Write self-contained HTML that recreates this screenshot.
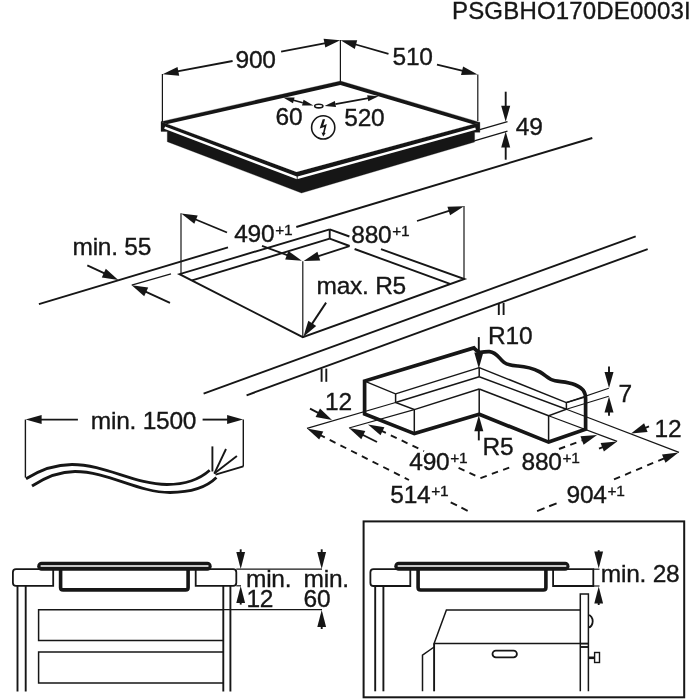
<!DOCTYPE html>
<html><head><meta charset="utf-8"><title>PSGBHO170DE0003I</title>
<style>
html,body{margin:0;padding:0;background:#fff;}
body{width:700px;height:700px;overflow:hidden;}
svg{display:block;will-change:transform;}
svg text{letter-spacing:-0.25px;stroke:#161616;stroke-width:0.35px;font-family:"Liberation Sans",Arial,Helvetica,sans-serif;fill:#161616;}
</style></head><body>
<svg width="700" height="700" viewBox="0 0 700 700">

<text x="452.0" y="18.8" font-size="24" text-anchor="start" textLength="238.5" lengthAdjust="spacing">PSGBHO170DE0003I</text>
<polygon points="161.0,121.7 296.5,172.0 479.9,122.4 479.9,132.3 474.6,132.3 474.6,142.0 301.5,193.0 167.3,141.7 167.3,131.6 161.0,131.4" fill="#161616" stroke="#161616" stroke-width="0.3" stroke-linejoin="miter"/>
<polyline points="164.6,127.6 297,177.9 475.6,128.6" fill="none" stroke="#fff" stroke-width="2.5" stroke-linejoin="miter"/>
<line x1="297.2" y1="176.0" x2="297.2" y2="180.0" stroke="#161616" stroke-width="0.9" stroke-linecap="butt"/>
<polygon points="161.0,121.7 340.5,81.0 479.9,122.4 296.5,172.0" fill="#161616" stroke="#161616" stroke-width="0.3" stroke-linejoin="miter"/>
<polygon points="167.5,124.1 340.4,84.9 472.9,124.3 296.5,172.0" fill="#fff"/>
<line x1="162.4" y1="74.0" x2="162.4" y2="122.0" stroke="#161616" stroke-width="1.2" stroke-linecap="butt"/>
<line x1="340.4" y1="40.0" x2="340.4" y2="82.0" stroke="#161616" stroke-width="1.2" stroke-linecap="butt"/>
<line x1="477.8" y1="74.6" x2="477.8" y2="121.0" stroke="#161616" stroke-width="1.2" stroke-linecap="butt"/>
<polygon points="162.6,74.2 177.5,66.9 179.2,75.7" fill="#161616"/>
<line x1="176.0" y1="71.7" x2="232.6" y2="61.0" stroke="#161616" stroke-width="1.8" stroke-linecap="butt"/>
<polygon points="340.2,40.2 325.3,47.6 323.6,38.8" fill="#161616"/>
<line x1="281.1" y1="51.7" x2="327.0" y2="42.8" stroke="#161616" stroke-width="1.8" stroke-linecap="butt"/>
<text x="235.5" y="68.0" font-size="24.5" text-anchor="start">900</text>
<polygon points="340.6,40.2 357.2,40.2 354.8,48.9" fill="#161616"/>
<line x1="354.0" y1="44.0" x2="388.5" y2="53.8" stroke="#161616" stroke-width="1.8" stroke-linecap="butt"/>
<polygon points="477.6,74.6 461.0,75.1 463.1,66.4" fill="#161616"/>
<line x1="437.0" y1="64.6" x2="464.0" y2="71.2" stroke="#161616" stroke-width="1.8" stroke-linecap="butt"/>
<text x="392.5" y="65.0" font-size="24.5" text-anchor="start">510</text>
<polygon points="283.2,97.4 294.6,97.4 293.0,103.2" fill="#161616"/>
<polygon points="313.4,105.6 302.0,105.6 303.6,99.8" fill="#161616"/>
<line x1="302.8" y1="102.7" x2="291.7" y2="99.7" stroke="#161616" stroke-width="1.7" stroke-linecap="butt"/>
<polygon points="378.6,96.3 368.3,101.2 367.2,95.3" fill="#161616"/>
<polygon points="324.6,106.0 334.9,101.1 336.0,107.0" fill="#161616"/>
<line x1="335.4" y1="104.1" x2="369.9" y2="97.9" stroke="#161616" stroke-width="1.7" stroke-linecap="butt"/>
<ellipse cx="318.8" cy="106.1" rx="4.1" ry="1.8" fill="#fff" stroke="#161616" stroke-width="1.6"/>
<text x="275.5" y="124.8" font-size="24.5" text-anchor="start">60</text>
<text x="344.3" y="126.2" font-size="24.5" text-anchor="start">520</text>
<circle cx="323.2" cy="127.4" r="11.6" fill="none" stroke="#161616" stroke-width="1.6"/>
<path d="M322.7 119.3 L325.1 119.3 L323.2 125.4 L326.8 123.9 L324.6 132.7 L325.7 132.9 L323.2 136.4 L321.5 132.6 L323 132.7 L324.3 127 L319.7 128.6 Z" fill="#161616"/>
<line x1="479.8" y1="129.7" x2="507.5" y2="121.6" stroke="#161616" stroke-width="1.2" stroke-linecap="butt"/>
<line x1="474.3" y1="140.9" x2="507.5" y2="131.2" stroke="#161616" stroke-width="1.2" stroke-linecap="butt"/>
<polygon points="505.7,121.7 501.2,105.7 510.2,105.7" fill="#161616"/>
<line x1="505.7" y1="91.7" x2="505.7" y2="108.9" stroke="#161616" stroke-width="1.9" stroke-linecap="butt"/>
<polygon points="505.7,131.4 510.2,147.4 501.2,147.4" fill="#161616"/>
<line x1="505.7" y1="159.7" x2="505.7" y2="144.2" stroke="#161616" stroke-width="1.9" stroke-linecap="butt"/>
<text x="515.8" y="134.8" font-size="24.5" text-anchor="start">49</text>
<line x1="38.9" y1="304.1" x2="228.0" y2="247.4" stroke="#161616" stroke-width="1.9" stroke-linecap="butt"/>
<line x1="296.3" y1="227.0" x2="592.3" y2="138.0" stroke="#161616" stroke-width="1.9" stroke-linecap="butt"/>
<text x="72.5" y="254.6" font-size="24.5" text-anchor="start">min. 55</text>
<polygon points="118.3,279.9 101.8,277.4 105.8,268.8" fill="#161616"/>
<line x1="87.3" y1="265.3" x2="106.7" y2="274.4" stroke="#161616" stroke-width="1.9" stroke-linecap="butt"/>
<polygon points="131.7,285.2 148.2,287.6 144.2,296.2" fill="#161616"/>
<line x1="170.0" y1="302.9" x2="143.3" y2="290.6" stroke="#161616" stroke-width="1.9" stroke-linecap="butt"/>
<line x1="131.7" y1="285.2" x2="171.0" y2="273.8" stroke="#161616" stroke-width="1.2" stroke-linecap="butt"/>
<line x1="181.0" y1="213.3" x2="181.0" y2="273.9" stroke="#161616" stroke-width="1.2" stroke-linecap="butt"/>
<line x1="302.8" y1="261.3" x2="302.8" y2="337.2" stroke="#161616" stroke-width="1.2" stroke-linecap="butt"/>
<line x1="464.0" y1="206.0" x2="464.0" y2="279.0" stroke="#161616" stroke-width="1.2" stroke-linecap="butt"/>
<polyline points="329.7,229.3 179.5,274.2 302.8,337.2 464.4,279.0 381.0,249.2" fill="none" stroke="#161616" stroke-width="1.9" stroke-linejoin="miter"/>
<line x1="329.7" y1="229.3" x2="349.4" y2="236.5" stroke="#161616" stroke-width="1.9" stroke-linecap="butt"/>
<line x1="329.7" y1="229.3" x2="329.7" y2="238.7" stroke="#161616" stroke-width="1.9" stroke-linecap="butt"/>
<polyline points="329.7,238.7 192.1,280.4" fill="none" stroke="#161616" stroke-width="1.9" stroke-linejoin="miter"/>
<polyline points="349.6,246.0 329.7,238.7" fill="none" stroke="#161616" stroke-width="1.9" stroke-linejoin="miter"/>
<polyline points="354.6,249.0 450.0,283.8" fill="none" stroke="#161616" stroke-width="1.9" stroke-linejoin="miter"/>
<polygon points="181.2,213.5 197.7,215.5 194.3,223.8" fill="#161616"/>
<line x1="194.5" y1="219.0" x2="227.0" y2="232.5" stroke="#161616" stroke-width="1.8" stroke-linecap="butt"/>
<polygon points="301.8,260.8 285.2,259.4 288.4,250.9" fill="#161616"/>
<line x1="262.0" y1="245.8" x2="288.5" y2="255.6" stroke="#161616" stroke-width="1.8" stroke-linecap="butt"/>
<text x="234.2" y="242.2" font-size="24.5" text-anchor="start">490<tspan dy="-7.6" dx="0.8" letter-spacing="-0.2" font-size="15.5">+1</tspan></text>
<polygon points="303.6,261.0 317.4,251.8 320.2,260.4" fill="#161616"/>
<line x1="317.0" y1="256.6" x2="349.4" y2="246.2" stroke="#161616" stroke-width="1.8" stroke-linecap="butt"/>
<polygon points="464.0,206.2 450.1,215.3 447.4,206.7" fill="#161616"/>
<line x1="417.0" y1="221.0" x2="450.5" y2="210.4" stroke="#161616" stroke-width="1.8" stroke-linecap="butt"/>
<text x="351.3" y="243.2" font-size="24.5" text-anchor="start">880<tspan dy="-7.6" dx="0.8" letter-spacing="-0.2" font-size="15.5">+1</tspan></text>
<text x="316.5" y="294.3" font-size="24.5" text-anchor="start">max. R5</text>
<polygon points="303.4,336.8 308.3,320.8 316.2,326.1" fill="#161616"/>
<line x1="326.1" y1="302.6" x2="310.5" y2="326.1" stroke="#161616" stroke-width="1.9" stroke-linecap="butt"/>
<line x1="203.6" y1="393.7" x2="635.7" y2="236.3" stroke="#161616" stroke-width="1.9" stroke-linecap="butt"/>
<line x1="246.6" y1="395.3" x2="647.7" y2="249.1" stroke="#161616" stroke-width="1.9" stroke-linecap="butt"/>
<line x1="498.8" y1="303.0" x2="498.8" y2="315.0" stroke="#161616" stroke-width="1.9" stroke-linecap="butt"/>
<line x1="503.6" y1="303.0" x2="503.6" y2="315.0" stroke="#161616" stroke-width="1.9" stroke-linecap="butt"/>
<line x1="321.6" y1="368.6" x2="321.6" y2="381.8" stroke="#161616" stroke-width="1.9" stroke-linecap="butt"/>
<line x1="326.3" y1="368.6" x2="326.3" y2="381.8" stroke="#161616" stroke-width="1.9" stroke-linecap="butt"/>
<line x1="25.4" y1="419.6" x2="25.4" y2="477.5" stroke="#161616" stroke-width="1.4" stroke-linecap="butt"/>
<line x1="243.3" y1="419.6" x2="243.3" y2="466.4" stroke="#161616" stroke-width="1.4" stroke-linecap="butt"/>
<polygon points="25.6,419.6 41.6,415.1 41.6,424.1" fill="#161616"/>
<line x1="77.9" y1="419.6" x2="38.4" y2="419.6" stroke="#161616" stroke-width="1.9" stroke-linecap="butt"/>
<polygon points="243.1,419.6 227.1,424.1 227.1,415.1" fill="#161616"/>
<line x1="202.6" y1="419.6" x2="230.3" y2="419.6" stroke="#161616" stroke-width="1.9" stroke-linecap="butt"/>
<text x="90.8" y="428.6" font-size="24.5" text-anchor="start">min. 1500</text>
<path d="M26 478.8 C40 470, 55 464.5, 72 464.5 C105 464.5, 135 484.5, 167 484.5 C186 484.5, 200 479, 209.7 470.3" fill="none" stroke="#161616" stroke-width="2.8"/>
<path d="M32 486 C45 477.5, 58 471.5, 75 471.5 C108 471.5, 138 492.5, 170 492.5 C191 492.5, 207 487, 216.4 477.6" fill="none" stroke="#161616" stroke-width="2.8"/>
<line x1="212.4" y1="446.4" x2="212.4" y2="471.5" stroke="#161616" stroke-width="1.9" stroke-linecap="butt"/>
<line x1="226.0" y1="449.0" x2="214.3" y2="473.6" stroke="#161616" stroke-width="1.9" stroke-linecap="butt"/>
<line x1="236.9" y1="456.1" x2="214.3" y2="473.6" stroke="#161616" stroke-width="1.9" stroke-linecap="butt"/>
<line x1="243.3" y1="466.4" x2="215.5" y2="474.6" stroke="#161616" stroke-width="1.9" stroke-linecap="butt"/>
<polyline points="364.6,381.1 395.6,393.9 395.6,402.5 414.3,409.6 414.3,433.6" fill="none" stroke="#161616" stroke-width="1.5" stroke-linejoin="miter"/>
<line x1="395.6" y1="393.9" x2="479.2" y2="367.6" stroke="#161616" stroke-width="1.5" stroke-linecap="butt"/>
<line x1="395.6" y1="402.5" x2="479.2" y2="376.8" stroke="#161616" stroke-width="1.5" stroke-linecap="butt"/>
<line x1="414.3" y1="409.6" x2="479.2" y2="389.0" stroke="#161616" stroke-width="1.5" stroke-linecap="butt"/>
<line x1="479.2" y1="367.6" x2="479.2" y2="376.8" stroke="#161616" stroke-width="1.5" stroke-linecap="butt"/>
<line x1="479.2" y1="389.0" x2="479.2" y2="414.3" stroke="#161616" stroke-width="1.5" stroke-linecap="butt"/>
<line x1="479.2" y1="367.6" x2="566.4" y2="402.6" stroke="#161616" stroke-width="1.5" stroke-linecap="butt"/>
<line x1="479.2" y1="376.8" x2="566.4" y2="409.3" stroke="#161616" stroke-width="1.5" stroke-linecap="butt"/>
<line x1="479.2" y1="389.0" x2="548.6" y2="415.7" stroke="#161616" stroke-width="1.5" stroke-linecap="butt"/>
<polyline points="585.7,396.9 566.4,402.6 566.4,409.3 548.6,415.7 548.6,442.1" fill="none" stroke="#161616" stroke-width="1.5" stroke-linejoin="miter"/>
<line x1="307.0" y1="428.4" x2="395.6" y2="402.5" stroke="#161616" stroke-width="1.2" stroke-linecap="butt"/>
<line x1="349.0" y1="428.0" x2="414.3" y2="409.6" stroke="#161616" stroke-width="1.2" stroke-linecap="butt"/>
<line x1="566.4" y1="402.6" x2="608.8" y2="388.2" stroke="#161616" stroke-width="1.2" stroke-linecap="butt"/>
<line x1="566.4" y1="409.3" x2="608.8" y2="396.3" stroke="#161616" stroke-width="1.2" stroke-linecap="butt"/>
<line x1="566.4" y1="409.3" x2="679.0" y2="452.4" stroke="#161616" stroke-width="1.2" stroke-linecap="butt"/>
<line x1="548.6" y1="415.7" x2="617.1" y2="441.4" stroke="#161616" stroke-width="1.2" stroke-linecap="butt"/>
<path d="M479.2 414.3 L414.3 433.6 L364.6 413.9 L364.6 381.1 L473.9 347.9 C476 350, 477 352.3, 480.5 352.3 C484 352.3, 486 351.2, 489.5 351.6 C497 352.4, 499 358.5, 504 362.4 C508 365.4, 512 365.6, 518 366 C527 366.6, 533 368.4, 540 372 C546 375.2, 548 379.5, 555 380.8 C562 382, 568 381.8, 575 384.8 C583 388.5, 585.6 391.5, 585.6 399 L585.6 429.3 L548.6 442.1 Z" fill="none" stroke="#161616" stroke-width="3.7" stroke-linejoin="miter"/>
<text x="488.1" y="344.2" font-size="24.5" text-anchor="start">R10</text>
<polygon points="478.8,368.4 474.3,352.4 483.3,352.4" fill="#161616"/>
<line x1="478.8" y1="337.1" x2="478.8" y2="355.6" stroke="#161616" stroke-width="1.9" stroke-linecap="butt"/>
<text x="482.5" y="454.6" font-size="24.5" text-anchor="start">R5</text>
<polygon points="478.8,415.2 483.3,431.2 474.3,431.2" fill="#161616"/>
<line x1="478.8" y1="440.4" x2="478.8" y2="428.0" stroke="#161616" stroke-width="1.9" stroke-linecap="butt"/>
<polygon points="609.0,388.0 604.5,372.0 613.5,372.0" fill="#161616"/>
<line x1="609.0" y1="366.4" x2="609.0" y2="375.2" stroke="#161616" stroke-width="1.9" stroke-linecap="butt"/>
<polygon points="609.0,396.4 613.5,412.4 604.5,412.4" fill="#161616"/>
<line x1="609.0" y1="415.7" x2="609.0" y2="409.2" stroke="#161616" stroke-width="1.9" stroke-linecap="butt"/>
<text x="618.5" y="401.6" font-size="24.5" text-anchor="start">7</text>
<polygon points="631.0,433.6 644.1,423.2 647.6,432.1" fill="#161616"/>
<line x1="649.0" y1="426.4" x2="642.9" y2="428.8" stroke="#161616" stroke-width="1.9" stroke-linecap="butt"/>
<text x="654.6" y="437.2" font-size="24.5" text-anchor="start">12</text>
<polygon points="332.0,420.0 315.6,416.9 320.0,408.4" fill="#161616"/>
<line x1="310.0" y1="408.6" x2="320.6" y2="414.1" stroke="#161616" stroke-width="1.9" stroke-linecap="butt"/>
<text x="325.0" y="410.0" font-size="24.5" text-anchor="start">12</text>
<polygon points="307.0,428.4 323.3,431.6 319.2,439.6" fill="#161616"/>
<line x1="319.0" y1="434.5" x2="409.0" y2="480.0" stroke="#161616" stroke-width="1.9" stroke-dasharray="6.5 5.5" stroke-linecap="butt"/>
<line x1="450.7" y1="502.3" x2="468.5" y2="511.3" stroke="#161616" stroke-width="1.9" stroke-dasharray="7 5" stroke-linecap="butt"/>
<polygon points="349.0,428.0 365.3,431.1 361.3,439.2" fill="#161616"/>
<line x1="361.0" y1="434.0" x2="377.0" y2="442.0" stroke="#161616" stroke-width="1.9" stroke-linecap="butt"/>
<polygon points="368.0,424.4 384.4,427.2 380.5,435.3" fill="#161616"/>
<line x1="380.0" y1="430.1" x2="424.0" y2="451.2" stroke="#161616" stroke-width="1.9" stroke-dasharray="6.5 5.5" stroke-linecap="butt"/>
<line x1="458.6" y1="467.8" x2="480.6" y2="478.1" stroke="#161616" stroke-width="1.9" stroke-dasharray="6.5 5.5" stroke-linecap="butt"/>
<line x1="480.6" y1="478.1" x2="510.4" y2="467.1" stroke="#161616" stroke-width="1.9" stroke-dasharray="6.5 5.5" stroke-linecap="butt"/>
<polygon points="597.1,435.0 583.6,444.7 580.5,436.2" fill="#161616"/>
<line x1="559.0" y1="449.0" x2="585.0" y2="439.4" stroke="#161616" stroke-width="1.9" stroke-dasharray="6.5 5.5" stroke-linecap="butt"/>
<polygon points="617.1,441.4 603.9,451.5 600.6,443.1" fill="#161616"/>
<line x1="599.0" y1="448.6" x2="606.0" y2="445.8" stroke="#161616" stroke-width="1.9" stroke-linecap="butt"/>
<line x1="537.1" y1="511.1" x2="559.0" y2="502.3" stroke="#161616" stroke-width="1.9" stroke-dasharray="8 5" stroke-linecap="butt"/>
<polygon points="678.5,452.4 665.5,462.7 662.0,454.4" fill="#161616"/>
<line x1="614.0" y1="479.4" x2="666.0" y2="457.6" stroke="#161616" stroke-width="1.9" stroke-dasharray="6.5 5.5" stroke-linecap="butt"/>
<text x="409.3" y="470.4" font-size="24.5" text-anchor="start">490<tspan dy="-7.6" dx="0.8" letter-spacing="-0.2" font-size="15.5">+1</tspan></text>
<text x="521.5" y="470.4" font-size="24.5" text-anchor="start">880<tspan dy="-7.6" dx="0.8" letter-spacing="-0.2" font-size="15.5">+1</tspan></text>
<text x="390.3" y="503.4" font-size="24.5" text-anchor="start">514<tspan dy="-7.6" dx="0.8" letter-spacing="-0.2" font-size="15.5">+1</tspan></text>
<text x="566.5" y="503.4" font-size="24.5" text-anchor="start">904<tspan dy="-7.6" dx="0.8" letter-spacing="-0.2" font-size="15.5">+1</tspan></text>
<path d="M53.2 569.2 H16 Q12.9 569.2 12.9 572.3 V582.7 Q12.9 585.8 16 585.8 H53.2 Z" fill="#fff" stroke="#161616" stroke-width="1.8"/>
<path d="M195.7 569.2 H233.2 Q236.3 569.2 236.3 572.3 V582.7 Q236.3 585.8 233.2 585.8 H195.7 Z" fill="#fff" stroke="#161616" stroke-width="1.8"/>
<path d="M60.6 569.5 V587.4 Q60.6 589.9 63.1 589.9 H185.6 Q188.1 589.9 188.1 587.4 V569.5" fill="none" stroke="#161616" stroke-width="3.6"/>
<rect x="37.2" y="561.8" width="174.5" height="8.9" rx="4.4" fill="#161616"/>
<rect x="40.4" y="565.2" width="168.3" height="1.6" rx="0.8" fill="#fff"/>
<line x1="17.5" y1="585.8" x2="17.5" y2="691.5" stroke="#161616" stroke-width="1.9" stroke-linecap="butt"/>
<line x1="25.7" y1="585.8" x2="25.7" y2="691.5" stroke="#161616" stroke-width="1.9" stroke-linecap="butt"/>
<line x1="223.3" y1="585.8" x2="223.3" y2="691.5" stroke="#161616" stroke-width="1.9" stroke-linecap="butt"/>
<line x1="230.4" y1="585.8" x2="230.4" y2="691.5" stroke="#161616" stroke-width="1.9" stroke-linecap="butt"/>
<polyline points="224.0,609.7 38.6,609.7 38.6,640.6 224.0,640.6" fill="none" stroke="#161616" stroke-width="1.5" stroke-linejoin="miter"/>
<polyline points="224.0,652.1 38.6,652.1 38.6,683.0 224.0,683.0" fill="none" stroke="#161616" stroke-width="1.5" stroke-linejoin="miter"/>
<line x1="236.3" y1="569.2" x2="322.0" y2="569.2" stroke="#161616" stroke-width="1.2" stroke-linecap="butt"/>
<line x1="236.3" y1="585.8" x2="241.0" y2="585.8" stroke="#161616" stroke-width="1.2" stroke-linecap="butt"/>
<line x1="224.0" y1="609.7" x2="322.0" y2="609.7" stroke="#161616" stroke-width="1.2" stroke-linecap="butt"/>
<polygon points="240.7,569.0 236.3,552.0 245.1,552.0" fill="#161616"/>
<line x1="240.7" y1="549.3" x2="240.7" y2="555.4" stroke="#161616" stroke-width="1.9" stroke-linecap="butt"/>
<polygon points="240.7,586.0 245.1,603.0 236.3,603.0" fill="#161616"/>
<line x1="240.7" y1="604.6" x2="240.7" y2="599.6" stroke="#161616" stroke-width="1.9" stroke-linecap="butt"/>
<polygon points="321.7,569.0 317.3,552.0 326.1,552.0" fill="#161616"/>
<line x1="321.7" y1="549.3" x2="321.7" y2="555.4" stroke="#161616" stroke-width="1.9" stroke-linecap="butt"/>
<polygon points="321.7,609.9 326.1,626.9 317.3,626.9" fill="#161616"/>
<line x1="321.7" y1="629.0" x2="321.7" y2="623.5" stroke="#161616" stroke-width="1.9" stroke-linecap="butt"/>
<text x="246.0" y="587.3" font-size="24.5" text-anchor="start">min.</text>
<text x="246.4" y="606.8" font-size="24.5" text-anchor="start">12</text>
<text x="303.6" y="587.3" font-size="24.5" text-anchor="start">min.</text>
<text x="303.6" y="606.8" font-size="24.5" text-anchor="start">60</text>
<rect x="363.6" y="521.4" width="320.6" height="175.9" fill="none" stroke="#161616" stroke-width="2"/>
<path d="M410.3 569.2 H373.5 Q370.4 569.2 370.4 572.3 V582.9 Q370.4 586 373.5 586 H410.3 Z" fill="#fff" stroke="#161616" stroke-width="1.8"/>
<path d="M553.1 569.2 H593.3 V586 H553.1 Z" fill="#fff" stroke="#161616" stroke-width="1.8"/>
<path d="M418.1 569.5 V587.5 Q418.1 590 420.6 590 H543.4 Q545.9 590 545.9 587.5 V569.5" fill="none" stroke="#161616" stroke-width="3.6"/>
<rect x="394.3" y="561.8" width="175.2" height="8.9" rx="4.4" fill="#161616"/>
<rect x="397.5" y="565.2" width="169" height="1.6" rx="0.8" fill="#fff"/>
<line x1="375.2" y1="586.0" x2="375.2" y2="691.3" stroke="#161616" stroke-width="1.9" stroke-linecap="butt"/>
<line x1="383.4" y1="586.0" x2="383.4" y2="691.3" stroke="#161616" stroke-width="1.9" stroke-linecap="butt"/>
<polyline points="580.3,609.9 446.4,609.9 434.1,643.6 580.3,643.6" fill="none" stroke="#161616" stroke-width="1.5" stroke-linejoin="miter"/>
<line x1="434.1" y1="643.6" x2="434.1" y2="691.3" stroke="#161616" stroke-width="1.9" stroke-linecap="butt"/>
<polyline points="434.1,647.0 422.5,655.2 422.5,691.3" fill="none" stroke="#161616" stroke-width="1.5" stroke-linejoin="miter"/>
<rect x="492.5" y="650.6" width="24.4" height="6.8" rx="3.4" fill="none" stroke="#161616" stroke-width="1.8"/>
<polyline points="580.3,691.3 580.3,594.1 588.4,594.1 588.4,691.3" fill="none" stroke="#161616" stroke-width="1.5" stroke-linejoin="miter"/>
<line x1="580.3" y1="643.6" x2="588.4" y2="643.6" stroke="#161616" stroke-width="1.9" stroke-linecap="butt"/>
<line x1="580.3" y1="647.0" x2="588.4" y2="647.0" stroke="#161616" stroke-width="1.9" stroke-linecap="butt"/>
<path d="M588.4 615.2 A4.3 6.1 0 0 1 588.4 627.4" fill="none" stroke="#161616" stroke-width="1.8"/>
<line x1="588.4" y1="657.8" x2="594.6" y2="657.8" stroke="#161616" stroke-width="2.6" stroke-linecap="butt"/>
<rect x="594.6" y="652.5" width="4.9" height="10" fill="#fff" stroke="#161616" stroke-width="1.4"/>
<line x1="593.3" y1="569.2" x2="599.5" y2="569.2" stroke="#161616" stroke-width="1.2" stroke-linecap="butt"/>
<line x1="593.3" y1="586.0" x2="599.5" y2="586.0" stroke="#161616" stroke-width="1.2" stroke-linecap="butt"/>
<polygon points="598.7,568.6 594.3,551.6 603.1,551.6" fill="#161616"/>
<line x1="598.7" y1="550.2" x2="598.7" y2="555.0" stroke="#161616" stroke-width="1.9" stroke-linecap="butt"/>
<polygon points="598.7,586.6 603.1,603.6 594.3,603.6" fill="#161616"/>
<line x1="598.7" y1="605.0" x2="598.7" y2="600.2" stroke="#161616" stroke-width="1.9" stroke-linecap="butt"/>
<text x="600.8" y="582.0" font-size="24.5" text-anchor="start">min. 28</text>
</svg>
</body></html>
